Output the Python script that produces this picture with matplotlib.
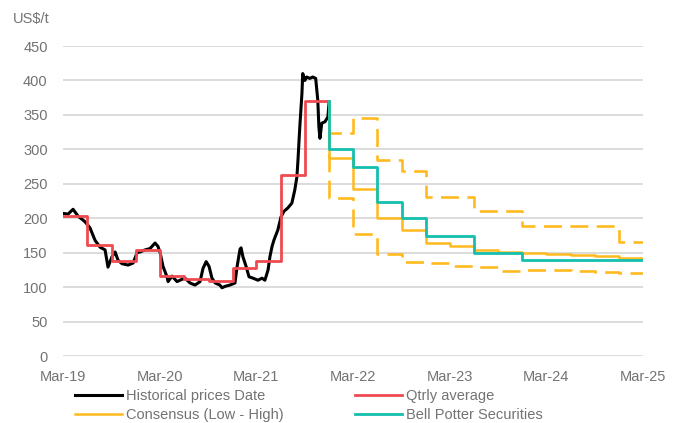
import matplotlib
matplotlib.use("Agg")
import matplotlib.pyplot as plt
import matplotlib.dates as mdates
import pandas as pd

plt.rcParams["font.family"] = ["Liberation Sans", "DejaVu Sans"]

# Historical spot prices (US$/t)
hist_dates = [
    "2019-03-01", "2019-03-20", "2019-04-08", "2019-04-27", "2019-05-23",
    "2019-06-11", "2019-06-30", "2019-07-19", "2019-08-07", "2019-08-18",
    "2019-09-02", "2019-09-14", "2019-09-25", "2019-10-10", "2019-11-02",
    "2019-11-21", "2019-12-06", "2019-12-17", "2020-01-05", "2020-01-24",
    "2020-02-12", "2020-02-23", "2020-03-02", "2020-03-13", "2020-03-28",
    "2020-04-01", "2020-04-16", "2020-05-05", "2020-05-16", "2020-06-04",
    "2020-06-23", "2020-07-12", "2020-07-31", "2020-08-11", "2020-08-23",
    "2020-09-03", "2020-09-14", "2020-09-26", "2020-10-14", "2020-10-22",
    "2020-11-02", "2020-11-21", "2020-12-10", "2020-12-18", "2020-12-29",
    "2021-01-02", "2021-01-09", "2021-01-21", "2021-02-01", "2021-02-16",
    "2021-03-07", "2021-03-22", "2021-04-02", "2021-04-14", "2021-04-21",
    "2021-04-29", "2021-05-06", "2021-05-21", "2021-06-02", "2021-06-13",
    "2021-06-28", "2021-07-13", "2021-07-24", "2021-08-01", "2021-08-05",
    "2021-08-12", "2021-08-20", "2021-08-23", "2021-08-31", "2021-09-07",
    "2021-09-19", "2021-09-30", "2021-10-11", "2021-10-19", "2021-10-23",
    "2021-10-27", "2021-11-03", "2021-11-15", "2021-11-26", "2021-12-01",
]
hist_prices = [
    207, 206, 213, 203, 195,
    186, 168, 158, 154, 129,
    144, 151, 139, 134, 132,
    135, 150, 151, 154, 156,
    164, 159, 150, 130, 115,
    108, 116, 108, 110, 113,
    106, 103, 108, 127, 137,
    130, 113, 106, 103, 99,
    101, 103, 106, 130, 155,
    157, 144, 130, 115, 113,
    110, 113, 110, 125, 144,
    159, 168, 183, 202, 210,
    215, 222, 241, 260, 284,
    333, 381, 410, 400, 405,
    403, 405, 403, 371, 333,
    316, 338, 340, 347, 369,
]

# Quarterly averages (quarter start dates)
qtr_starts = [
    "2019-03-01", "2019-06-01", "2019-09-01", "2019-12-01",
    "2020-03-01", "2020-06-01", "2020-09-01", "2020-12-01",
    "2021-03-01", "2021-06-01", "2021-09-01",
]
qtr_avg = [203, 161, 138, 154, 116.5, 112, 109, 128, 138, 263, 370]
qtr_end = "2021-12-01"

# Consensus forecasts
cons_starts = [
    "2021-12-01", "2022-03-01", "2022-06-01", "2022-09-01", "2022-12-01",
    "2023-03-01", "2023-06-01", "2023-09-01", "2023-12-01", "2024-03-01",
    "2024-06-01", "2024-09-01", "2024-12-01",
]
cons_mid = [288, 243, 201, 183, 164.5, 160, 154, 151, 150, 148, 146.5, 145.5, 142.5]
cons_low = [229, 177, 148, 136, 134.5, 131, 129, 124, 125, 124.5, 123.5, 122, 120]

high_starts = [
    "2021-12-01", "2022-03-01", "2022-06-01", "2022-09-01", "2022-12-01",
    "2023-06-01", "2023-12-01", "2024-12-01",
]
cons_high = [324, 345, 284, 269, 231, 211, 188, 166]

# Bell Potter Securities forecast
bp_starts = [
    "2021-12-01", "2022-03-01", "2022-06-01", "2022-09-01", "2022-12-01",
    "2023-06-01", "2023-12-01",
]
bp_values = [300, 274, 224, 200, 174, 149, 139]
fc_end = "2025-03-01"

tick_years = ["2019-03-01", "2020-03-01", "2021-03-01", "2022-03-01",
              "2023-03-01", "2024-03-01", "2025-03-01"]

BLACK = "#000000"
RED = "#EF4A4F"
GOLD = "#FFBA1F"
TEAL = "#14BFAF"
GRID = "#D9D9D9"
TEXT = "#737373"


def step_xy(starts, values, end, anchor=None):
    xs = list(pd.to_datetime(starts))
    ys = list(values)
    if anchor is not None:
        xs = [xs[0]] + xs
        ys = [anchor] + ys
    xs.append(pd.to_datetime(end))
    ys.append(values[-1])
    return xs, ys


fig = plt.figure(figsize=(6.88, 4.23), dpi=100)
ax = fig.add_axes([63 / 688, 1 - 356 / 423, 580 / 688, 310 / 423])

ax.plot(pd.to_datetime(hist_dates), hist_prices, color=BLACK, lw=2.2,
        solid_joinstyle="round", zorder=3, label="Historical prices Date")

x, y = step_xy(qtr_starts, qtr_avg, qtr_end)
ax.plot(x, y, drawstyle="steps-post", color=RED, lw=2.0, zorder=4,
        label="Qtrly average")

last_actual = qtr_avg[-1]
dash = (0, (6.8, 3.2))
x, y = step_xy(high_starts, cons_high, fc_end, anchor=last_actual)
ax.plot(x, y, drawstyle="steps-post", color=GOLD, lw=1.9, ls=dash, zorder=5)
x, y = step_xy(cons_starts, cons_low, fc_end, anchor=last_actual)
ax.plot(x, y, drawstyle="steps-post", color=GOLD, lw=1.9, ls=dash, zorder=5)
x, y = step_xy(cons_starts, cons_mid, fc_end, anchor=last_actual)
ax.plot(x, y, drawstyle="steps-post", color=GOLD, lw=1.8, zorder=5,
        label="Consensus (Low - High)")

x, y = step_xy(bp_starts, bp_values, fc_end, anchor=last_actual)
ax.plot(x, y, drawstyle="steps-post", color=TEAL, lw=2.0, zorder=6,
        label="Bell Potter Securities")

ax.set_xlim(pd.to_datetime(tick_years[0]), pd.to_datetime(tick_years[-1]))
ax.set_ylim(0, 450)
ax.set_yticks(range(0, 451, 50))
ax.set_xticks(pd.to_datetime(tick_years))
ax.xaxis.set_major_formatter(mdates.DateFormatter("%b-%y"))

ax.grid(axis="y", color=GRID, lw=1.3)
ax.set_axisbelow(True)
for s in ax.spines.values():
    s.set_visible(False)
ax.tick_params(axis="both", length=0, labelsize=10.5, labelcolor=TEXT)
ax.tick_params(axis="y", pad=11)
ax.tick_params(axis="x", pad=10)

fig.text(13 / 688, 1 - 19 / 423, "US$/t", fontsize=10.5, color=TEXT,
         ha="left", va="center")

handles, labels = ax.get_legend_handles_labels()
order = [0, 2, 1, 3]
leg = fig.legend([handles[i] for i in order], [labels[i] for i in order],
                 ncol=2, loc="upper left", bbox_to_anchor=(75 / 688, 1 - 389 / 423),
                 frameon=False, fontsize=10.5, handlelength=3.2,
                 handletextpad=0.3, columnspacing=4.9, labelspacing=0.32,
                 borderpad=0, borderaxespad=0)
for t in leg.get_texts():
    t.set_color(TEXT)

fig.savefig("out.png", dpi=100)
